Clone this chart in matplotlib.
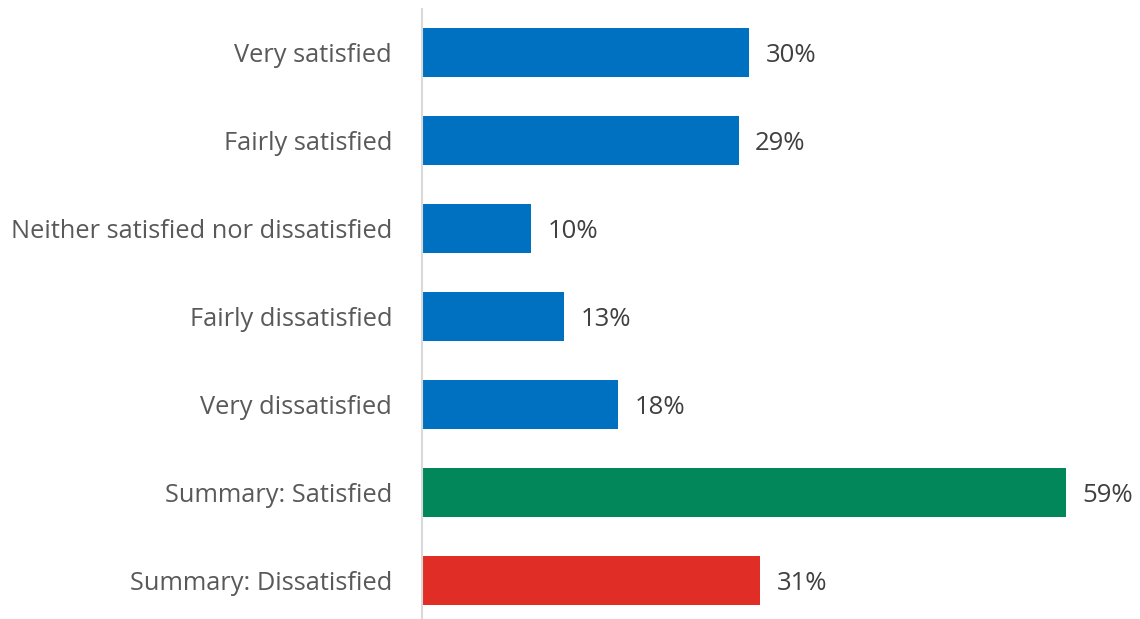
import matplotlib
matplotlib.use('Agg')
import matplotlib.pyplot as plt

# Data
categories = ['Very satisfied', 'Fairly satisfied', 'Neither satisfied nor dissatisfied',
              'Fairly dissatisfied', 'Very dissatisfied', 'Summary: Satisfied',
              'Summary: Dissatisfied']
values = [30, 29, 10, 13, 18, 59, 31]
colors = ['#0070C0'] * 5 + ['#02875A', '#E02E27']

plt.rcParams['font.family'] = ['Open Sans', 'DejaVu Sans']

W, H = 1140, 619
fig = plt.figure(figsize=(W / 100, H / 100), dpi=100)

# axes spans from the vertical axis line to the right edge
x0 = 422
ax = fig.add_axes([x0 / W, 0, 1 - x0 / W, (H - 9) / H])

px_per_unit = (1066 - x0) / 59
ax.set_xlim(0, (W - x0) / px_per_unit)
ax.set_ylim((H - 52.5) / 88, (9 - 52.5) / 88)

pos = list(range(len(categories)))
ax.barh(pos, values, height=49 / 88, color=colors)

for p, v in zip(pos, values):
    ax.text(v + 1.5, p + 0.03, f'{v}%', va='center', ha='left', fontsize=18.5, color='#404040')

ax.set_yticks(pos)
ax.set_yticklabels(categories, fontsize=18.3, color='#595959')
ax.tick_params(axis='y', length=0, pad=21.5)
ax.set_xticks([])

for s in ['top', 'right', 'bottom']:
    ax.spines[s].set_visible(False)
ax.spines['left'].set_color('#D9D9D9')
ax.spines['left'].set_linewidth(1.5)

fig.savefig('out.png', dpi=100)
